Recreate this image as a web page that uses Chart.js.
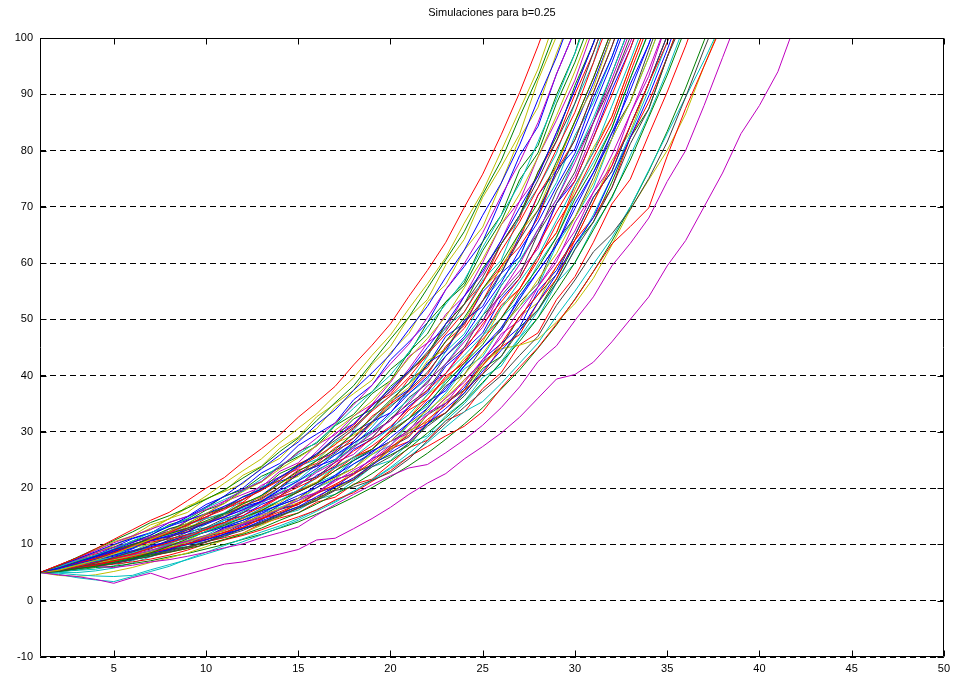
<!DOCTYPE html>
<html>
<head>
<meta charset="utf-8">
<script src="https://cdn.jsdelivr.net/npm/chart.js@4.4.1/dist/chart.umd.min.js"></script>
<style>
  body { margin: 0; background: #fff; }
  #wrap { width: 955px; height: 677px; }
</style>
</head>
<body>
<div id="wrap"><canvas id="sims"></canvas></div>
<script>
// Simulated paths, one value per step starting at t = 1
const titleText = "Simulaciones para b=0.25";
const xTicks = [5, 10, 15, 20, 25, 30, 35, 40, 45, 50];
const yTicks = [-10, 0, 10, 20, 30, 40, 50, 60, 70, 80, 90, 100];

const run01 = [5,6.3,7.6,9.2,10.9,12.6,14.3,15.7,17.8,20,21.9,24.6,27,29.5,32.6,35.3,38.1,41.9,45.4,49.2,54.1,58.7,63.7,69.9,75.8,82.8,90.3,98.6,107.7];
const run02 = [5,6.2,7.7,9.2,10.7,12.2,13.9,15.1,16.5,18,19.7,21.8,23.8,26.5,28.9,32,35.2,38.2,42.3,46.5,50.4,55.5,60.6,65.6,72.2,78.2,86,93.2,101.8];
const run03 = [5,5.8,6.8,7.9,9.1,10.3,11.7,13.2,14.9,16.7,18.6,21,23.4,25.9,28.2,31.3,33.9,37.4,40.5,43.8,48.2,52.3,57.5,62.3,68.5,74.2,81,89.1,96.6,105.4];
const run04 = [5,6.3,7.6,8.9,10.3,11.5,12.7,13.9,15,16.2,17.7,19.7,21.2,23.8,26.3,28.9,31.6,34.8,38.3,42.1,45.6,50.3,55.3,59.9,65.4,71.9,77.9,85,93.6,101.4];
const run05 = [5,6,7.1,8.1,9.2,10.6,12.1,13.3,14.6,16.5,18,19.5,21.6,24,26,28.2,31.1,34.2,37.1,40.1,44.2,48.6,52.7,57,62.8,68.5,74.1,81.6,89.2,97.3,106.2];
const run06 = [5,5.4,6.3,7.2,8.3,9.6,10.9,12.3,13.8,15.5,17.3,19.4,21.1,23.4,25.4,27.5,30.3,32.8,35.5,39.1,43.1,46.6,50.5,55.6,60.7,66.8,72.3,78.9,86.2,94.1,102.7];
const run07 = [5,6.2,7.4,8.7,10,11.1,12.1,13.2,14.3,15.5,16.8,18.4,19.8,22,23.9,26.1,29,31.4,34.6,37.7,40.8,45,49.2,54.1,58.6,64,69.8,75.5,83.2,90.8,99.1,108.2];
const run08 = [5,5.8,6.7,7.5,8.5,9.7,10.8,12.1,13.5,14.9,16.2,18,19.6,21.4,23.7,25.6,27.7,30.6,33.7,36.4,39.7,43.8,47.4,51.3,56.5,62.2,67.3,73.4,80.2,86.8,95.6,104.3];
const run09 = [5,5.9,6.9,8,9.1,10,10.9,11.9,12.9,14.2,15.5,17.2,18.7,20.8,23,24.9,26.9,29.7,32.4,35.7,38.6,41.8,46.1,50.3,55.4,60,65.4,70.7,78,85.2,92.9,101.4];
const run10 = [5,5.3,5.9,6.7,7.7,8.7,9.9,11.2,12.6,13.8,15.3,16.7,18.2,20.2,22.4,24.2,26.2,28.9,31.8,34.4,37.5,40.6,44.8,49.3,53.3,58.2,64.2,69.4,75.8,81.9,90.3,98.5,107.6];
const run11 = [5,5.7,6.7,7.8,8.8,9.7,10.7,11.6,12.6,13.6,14.9,16.2,17.6,19.6,21.3,23.5,25.9,28,30.3,33.4,36.8,39.8,43.5,46.9,51.8,56.5,62.3,67.3,73.6,79.5,87.6,95.6,104.4];
const run12 = [5,6.1,7.2,8.5,9.5,10.4,11.3,12.1,12.9,13.9,14.9,16.1,17.5,19,20.6,22.8,24.6,27.2,29.7,32,35.3,39,42.1,46,49.7,54.8,59.8,66,71.3,77.9,85,92.7,101.3];
const run13 = [5,5.4,6.1,6.8,7.5,8.3,9.4,10.3,11.3,12.7,13.9,15.1,16.7,18.6,20.2,21.8,24.1,26.6,28.7,31,34.2,37.4,40.4,44.5,49.2,53.1,57.3,63.2,69.1,74.6,82.3,89.8,98.1,107];
const run14 = [5,5.6,6.3,7.1,7.7,8.5,9.4,10.2,11.2,12.3,13.7,14.8,16.4,17.8,19.7,21.8,23.6,25.5,28.1,30.7,33.1,36.6,40.4,43.6,47.1,52,56.7,61.2,67.6,73.8,79.7,87.9,96,104.7];
const run15 = [5,5.2,5.7,6.1,6.8,7.5,8.5,9.7,11,12.3,13.4,14.8,16,17.8,19.3,20.9,23.1,24.9,26.9,29.7,32.4,35,38.6,42.2,45.5,50.2,54.8,59.2,64.6,71.4,77,84,92.8,101];
const run16 = [5,5.8,6.6,7.3,8.1,8.9,9.6,10.5,11.3,12.2,13.1,14.3,15.5,17.2,18.7,20.1,22.3,24.3,26.3,29,31.6,34.2,37.8,41.7,45,48.5,53.6,58.5,63.2,69.7,76.1,83.1,90.7,98.9,107.9];
const run17 = [5,5.5,6.2,6.7,7.3,8,8.7,9.5,10.4,11.5,12.5,13.9,15.1,16.4,18.2,20.1,21.8,23.5,26,28.3,31.3,33.8,36.4,40.2,43.9,48.5,52.3,57.1,61.7,68.1,74.3,82.1,88.6,96.6,105.4];
const run18 = [5,5.4,6.1,6.8,7.5,8.2,9,9.8,10.6,11.6,12.5,13.6,14.8,16.4,17.8,19.2,21.2,23.2,25,27.6,30.5,33,36,38.8,42.9,46.8,51.7,55.8,60.9,65.7,72.6,79.2,86.5,94.3,102.9];
const run19 = [5,5.3,5.9,6.3,7,7.8,8.5,9.4,10.1,11.1,12.1,13.1,14.6,15.8,17.1,19,20.7,22.4,24.7,27.3,29.4,32.2,34.7,38.3,41.8,45.7,50.5,54.4,59.4,64.1,70.8,77.3,84.4,92,99.2,109.6];
const run20 = [5,5.6,6.3,6.9,7.5,8.1,8.7,9.4,10,10.8,11.8,12.8,14.2,15.4,16.7,18.5,20.2,21.8,24.1,26.3,28.3,31.4,34.2,36.9,40.8,44.5,48,53,58,63.3,68.1,75.3,82.3,89.7,97.9,106.9];
const run21 = [5,5.2,5.7,6.1,6.6,7.3,7.9,8.7,9.5,10.4,11.5,12.5,13.9,15,16.5,18.2,19.7,21.5,23.8,25.6,28,31,33.4,36.4,40.3,43.4,48,51.7,56.5,62.4,67.3,73.4,81.2,87.4,96.6,104.1];
const run22 = [5,5.7,6.4,6.9,7.2,7.6,8.1,8.6,9.3,10,10.9,11.8,12.9,14.3,15.6,17.2,18.9,20.6,22.6,24.8,27.1,29.8,32.5,35.4,38.8,42.3,46.1,50.3,55.1,60.1,65.9,71.8,78.3,85.9,93.4,101.8];
const run23 = [5,6,7.2,8.5,9.8,11.3,12.9,14.6,16.5,18.6,20.9,23.1,25.2,28.1,30.6,33.2,36.5,39.6,43.6,47.2,51.9,56.3,61,67.1,72.7,79.9,87.2,94.5,104];
const run24 = [5,5.8,6.6,7.6,8.7,9.9,11.2,12.3,13.5,14.9,16.5,18,19.6,21.8,24.1,26.1,28.5,30.8,34,37.4,40.5,44.2,47.9,52.7,57.5,63.4,68.5,74.8,81.7,88.4,97.4,106.3];
const run25 = [5,5.1,5.5,6.1,6.7,7.7,8.9,10.1,11.5,12.8,14.3,15.9,17.3,19.2,21.3,23,25.1,27.2,30,33,35.7,39,42.1,46.5,50.7,56,60.4,66,71.3,78.7,85.8,93.7,102.3];
const run26 = [5,6,7.1,8.1,9,9.7,10.4,11,11.7,12.6,13.6,14.8,16,17.8,19.3,20.9,23.1,25.5,27.5,30,32.4,35.8,39.5,42.6,46.5,50.2,55.4,60.5,66.9,72.2,78.8,85,93.9,102.4];
const run27 = [5,4.6,4.3,3.8,3.1,4.1,4.9,3.8,4.7,5.6,6.5,6.9,7.6,8.3,9.1,10.8,11.1,12.8,14.6,16.6,18.9,20.9,22.6,25.2,27.4,29.8,32.6,36,39.4,40.2,42.4,46,50,54,59.5,64,70,76,83,88,94,103];
const run28 = [5,5.5,5.9,6.1,5.9,6.3,6.9,7.3,7.9,8.6,9.4,10.1,11.2,12.1,13.1,15.2,17.1,18.9,20.6,22.2,23.6,24.2,26.3,28.6,31.2,34.3,38,42.5,45.3,49.8,54,59.5,63.5,68,74.5,80,88,96.5,105];
const run29 = [5,5.4,5.9,6.4,6.9,7.5,8.2,8.9,9.6,10.5,11.6,12.8,14,15.2,16.4,17.8,19.6,20.2,21.4,22.8,25.2,28.4,31.5,34.4,37.2,40,43.6,47,52.5,57,62,65.2,69.5,75,81.5,89.5,98,106];
const run30 = [5,5.3,5.6,6.1,6.5,6.9,7.4,8.1,9,10.1,10.8,11.6,12.6,13.8,14.9,16.1,17.9,19.2,21.2,23.1,25.6,27.4,29.3,31,33.6,37.8,41.5,45,49.2,53.5,58.5,63.4,66.5,69.8,79,87.5,95,102.5];
const run31 = [5,4.7,4.1,3.7,3.4,4.3,5.2,6.1,7.4,8.6,9.8,11,12.2,13.3,14.6,16.2,17.7,19.5,21.4,23.5,25.6,28.1,30.9,33.6,35.4,38.6,42.2,45.8,50.6,55,59.8,64.5,70,76.5,83,89.5,96,103];
const run32 = [5,4.9,4.6,4.4,4.3,4.5,5.5,6.4,7.3,8.3,9.3,10.5,11.7,13,14.3,15.9,17.5,19.4,21.5,23.7,26.2,29,32,35,38.6,42.5,46.8,51.5,56.6,62.5,68.6,75.4,82.9,90.8,99.2,108];
const run33 = [5,4.5,4.3,4.6,5.2,5.9,6.8,7.6,8.5,9.6,10.8,12,13.4,14.9,16.5,18.1,19.8,21.9,24.1,26.8,29.8,32.9,36.1,39.2,42.1,44.8,45.4,46.5,49.5,52.8,57.3,63.2,69.5,74.8,80,86.5,95,103];
const run34 = [5,5.2,5.5,5.9,6.1,6.6,7.1,7.8,8.4,9.2,10,10.9,11.8,12.9,14,15.4,16.8,18.4,20.1,22,24,26.2,28.7,31.4,34.3,37.6,41,44.9,49,53.6,58.5,63.9,69.9,76.3,83.4,91.1,99.5,108];
const run35 = [5,5.7,6.7,7.3,8.5,9.3,10.8,11.4,12.2,13.9,14.8,16.7,17.6,19.8,22.6,23.9,25.1,28.3,31.8,33.4,37.5,42.2,44.3,49.8,52.3,58.2,61.1,68.7,76.5,80.3,89.4,96.6,105.5];
const run36 = [5,5.9,7.1,7.8,9.2,10.6,11.6,13.5,14.5,16.5,18.6,19.7,22.1,23.6,26.5,28,31.3,35.1,37.1,41.1,43.8,49.4,53.1,56.5,63.8,68.5,76.6,80.9,89.9,97.3,108];
const run37 = [5,5.5,6.3,6.8,7.7,8.3,9.4,10.1,11.5,12.2,13.7,14.6,16.4,18.4,19.5,20.9,23.6,25.5,26.9,30.3,33.9,35.8,39.9,42.2,47.1,52.5,55.4,61.2,65.4,73.8,79.7,86,95,103.5];
const run38 = [5,5.8,6.3,7.4,8.1,9.4,10.9,11.8,13.5,14.6,15.6,17.9,20.2,21.4,23.9,25.1,28.2,30.3,34,36.4,38.6,43.4,48.7,51.3,57,60.5,68.5,73.4,79.5,88.4,95.6,106.3];
const run39 = [5,5.6,6.1,6.7,7.3,8,8.7,9.9,10.5,11.3,12.8,13.6,15.3,16.2,18.2,19.2,21.5,22.6,25.3,28.3,29.8,33.4,35.1,39.3,42.4,47.4,49.8,55.8,60.2,67.3,72.6,77.3,86.5,93.2,102.9];
const run40 = [5,6,7.2,8.6,9.9,11.5,12.6,14.6,15.7,18.1,19.4,20.8,23.6,25.3,28.6,30.6,34.4,36.8,39.2,44.1,47.5,53.1,56.2,62.3,66.4,74.2,82.2,87.7,97.3,105.4];
const run41 = [5,5.4,5.9,6.8,7.3,8.4,9.2,10.7,11.5,13,13.9,15.6,17.6,18.6,20.8,22,24.6,27.5,29,32.4,35,37.4,42.1,45,50.7,54.2,57.9,65.3,70.6,76.2,85,91.8,100.2];
const run42 = [5,5.3,5.7,6.1,6.6,7.3,8.4,9.1,10.5,11.3,13,13.9,15.8,17,18.2,20.6,22,24.9,26.6,28.3,31.6,35.4,37.3,41.7,45,48,54.2,58.5,63.2,70.6,76.1,82.1,91.8,98.9,107.9];
const run43 = [5,6.2,7.4,8.6,9.5,10.4,11.3,12.8,13.7,15.5,16.5,18.5,19.8,22.6,24.1,25.8,29,32.3,34,38.1,40.8,43.8,49.2,52.7,59.1,63.4,68.5,76.2,82.5,91.6,99.1,108.2];
const run44 = [5,5.4,6,6.5,7.1,7.8,8.5,9.2,10.1,10.8,12.2,13,14.6,15.4,17.4,18.2,20.5,21.5,24.1,27,28.3,31.8,33.4,37.4,40.3,45.1,47.3,53,57.2,64.1,68.1,73.4,82.3,88.6,96.6,105.5];
const run45 = [5,5.9,6.9,7.6,8.9,9.7,11.4,12.3,14.3,15.4,17.6,18.9,20.2,23,24.5,27.7,29.5,32.8,34.9,38.8,43.4,45.8,50.9,54.1,60.1,66.8,71,78.9,85.4,92.5,101.8];
const run46 = [5,5.2,5.4,5.6,6.2,7.1,8.2,9.4,10.7,11.6,13.4,14.3,16,17,19.5,20.9,22.3,25.2,26.9,30.3,32.4,34.6,39.1,41.7,47.1,50.2,53.6,59.8,64.6,72.2,77.9,84,92.8,101.2];
const run47 = [5,5.6,6.6,7.5,8.1,9.4,10.1,11.6,13.2,14,15,17.2,18.5,21,22.1,24.9,28,29.4,31.5,35.4,37.9,42.6,44.8,49.8,55.4,58.8,65.4,69.4,77.3,85.2,91.2,100.5];
const run48 = [5,5.8,6.7,7.3,7.9,8.6,9.8,10.5,11.8,12.7,14.3,15.1,17.1,18.4,19.5,22.3,23.8,26.9,28.7,30.7,34.6,37,41.7,44.5,47.6,53.7,57.3,63.2,70.6,74.6,82.3,90.8,98.1,107];
const run49 = [5,6.2,7.3,8,8.7,9.4,10.7,11.4,12.3,14,14.9,16.9,18,20.2,22.8,23.9,26.7,28.3,31.5,35,37.2,40.2,45.2,48.4,53.3,59.4,62.9,68,76.5,81.9,90.3,98.5,107.6];
const run50 = [5,5.5,5.9,6.5,7,7.7,8.3,9.5,10,11.5,12.1,13.6,14.4,16.2,17.1,19.2,21.5,22.6,24.1,27.3,29.1,33,35.1,37.4,42.4,45.1,50.5,54.4,58,64.9,71.7,76.3,84.4,92,100.4];
const run51 = [5,6.3,7.6,9,10.5,11.5,13.5,14.5,16.8,18.1,19.5,22.3,23.9,27.1,29.1,32.7,35,37.4,42,45.2,50.4,53.5,59.7,64.2,71.7,77.1,82.9,92.5,100.3];
const run52 = [5,5.8,6.9,8.1,9.5,11,12,13.9,15,17.1,18.5,20,22.7,24.4,27.6,29.6,31.6,35.7,38.3,42.8,46,49.4,55.3,59.4,63.8,71.4,79.1,84.3,93.6,101.4];
const run53 = [5,5.5,6.3,7.3,8.5,9.7,11.3,12.3,14.2,16.1,17.3,19.7,21.1,24,25.6,27.5,31.1,33.1,36.8,39.1,44.2,47.4,53.1,56,62.2,67.4,74.8,79.6,88.4,95.7,104.4];
const run54 = [5,6,7.1,7.8,9,9.8,10.7,12.3,13.3,15.3,16.4,17.5,20,21.4,24.3,25.8,29,31.1,34.9,36.7,40.8,43.4,49.2,52.7,56.5,63.4,67.9,76.2,81.7,90,97.4,106.3];
const run55 = [5,5.9,6.4,6.9,8.1,8.8,10.2,11,11.8,13.6,15.5,16.4,17.6,20.2,21.5,24.2,25.9,27.5,30.9,34.7,36.8,39.4,44.3,47.4,53.3,57.1,61.1,68.7,74.3,82.7,88.5,96.6,105.5];
const run56 = [5,5.4,6.2,6.7,7.7,8.2,9.5,10.3,11.1,12.8,13.9,15.7,16.6,18.6,21,22,24.6,26,29,32.4,34.2,38.2,40.4,45,48.6,54.8,58.6,62.6,70.6,75.4,83.2,91.8,99.2,108.1];
const run57 = [5,5.3,5.8,6.6,7.1,8.2,8.8,10,10.7,12.4,13.3,14.3,16.2,17.4,19.7,21.1,23.8,25.5,26.9,30.3,32.4,36.6,39.1,43.1,46,52,55.4,61.2,65.4,73,80.5,86,95,103.5];
const run58 = [5,5.7,6.2,6.7,7.3,8,8.6,9.8,10.5,11.3,13,13.9,14.9,17,18.2,20.6,22,23.5,26.6,28.3,30.2,34.2,38.2,40.2,45,48,53,56.4,63.9,68.1,75.2,83.1,88.6,97.8,106.7];
const run59 = [5,5.4,5.9,6.3,6.9,7.4,8.5,9,10.2,10.9,11.8,13.4,14.4,16.4,17.1,19.2,20.2,22.6,25.3,26.6,29.8,31.4,35.1,37.8,42.9,45.7,48.6,55.1,58.7,64.9,71.7,76.3,84.4,92,100.4];
const run60 = [5,5.3,5.7,6.1,6.7,7.3,7.9,9.1,9.6,10.4,11.9,12.8,13.7,15.6,16.7,17.8,20.2,21.5,24.4,25.9,27.6,31.4,33.4,36.9,41.3,43.4,48.6,51.7,57.2,63.3,67.3,74.4,82.3,87.4,96.6,105.5];
const run61 = [5,6.3,7.6,8.3,9,9.7,11.1,11.9,12.8,14.6,15.5,17.4,18.4,20.8,23.2,24.4,27.2,28.9,32.8,35,39.4,41.4,46.1,48.9,55.4,59.4,64.2,72.1,77.3,85.2,92.9,101.4];
const run62 = [5,5,5,5.3,5.8,6.7,7.8,8.9,10.2,11.1,12.7,13.6,15.5,16.6,17.8,20.1,21.5,24.3,26,27.6,31.3,33.4,36.9,41.2,43.4,48.5,52.3,55.8,63.2,68.1,73.5,82.1,88.6,96.6,105.4];
const run63 = [5,5.8,6.8,7.4,8.7,10.1,10.9,12.7,13.7,14.7,16.8,18,20.5,22,23.4,26.5,29.8,31.4,34.9,37.1,41.2,45.8,48.3,54.1,58.1,64,71,75.5,83.2,90.8,99.1,108.2];
const run64 = [5,5.6,6.1,7.1,7.6,8.8,9.4,10.8,12.2,13,14.6,15.6,17.8,19.2,20.4,23.2,24.9,28,30,32,36.1,38.6,43.5,46.5,49.7,56,60.4,65.3,72.8,78.7,85,93.7,102.3];
const run65 = [5,5.9,6.8,7.5,8.1,8.7,9.4,10,10.7,11.6,12.4,13.9,14.6,16.4,17.4,19.4,20.5,22.9,24.1,27,30.2,31.8,35.6,37.4,41.8,45.1,50.5,53,59.4,64.1,70.8,78.2,83.3,92,100.4];
const run66 = [5,5.9,6.4,7.4,8,9.2,10.6,11.3,12.9,13.8,15.6,16.6,18.7,21.2,22.4,24.9,26.4,30,31.8,35.4,37.5,41.8,47,49.3,54.9,58.2,64.8,72.1,76.5,84.3,92,100.5];
const run67 = [5,5.4,5.8,6.2,6.7,7.3,7.9,8.6,9.3,10.5,11.2,12,13.7,14.7,15.6,17.5,18.4,20.7,21.6,24.3,27.2,28.5,32,33.5,37.7,40.5,45.5,47.6,53.5,57.6,63.7,70.5,74.9,82.8,90.4,98.6,107.6];
const run68 = [5,5.6,6,6.6,7.1,7.6,8.2,8.8,10,10.5,11.3,13,13.5,15.2,16.1,18,18.9,21.2,23.8,24.9,28,29.3,32.9,35.4,39.7,41.7,46.7,50.3,56.5,60,66.4,71.5,79.1,86.3,94.1,102.8];

const runs = [run01, run02, run03, run04, run05, run06, run07, run08, run09, run10,
              run11, run12, run13, run14, run15, run16, run17, run18, run19, run20,
              run21, run22, run23, run24, run25, run26, run27, run28, run29, run30,
              run31, run32, run33, run34, run35, run36, run37, run38, run39, run40,
              run41, run42, run43, run44, run45, run46, run47, run48, run49, run50,
              run51, run52, run53, run54, run55, run56, run57, run58, run59, run60,
              run61, run62, run63, run64, run65, run66, run67, run68];

// classic MATLAB colour order: b g r c m y k
const palette = { b: "#0000ff", g: "#008000", r: "#ff0000", c: "#00bfbf",
                  m: "#bf00bf", y: "#bfbf00", k: "#404040" };
const runColors = ("rgbmcybrgkbmrcgbymrbkgykcrmmkrccyg" +
                   "bgrcmykbgrmcybrk" +
                   "ybgrcmykbgrcmkybrc").split("");

const FONT = '"Liberation Sans", Arial, sans-serif';

// boxed axes with inward ticks and a title centred over the plot
const matlabAxes = {
    id: "matlabAxes",
    afterDraw(chart) {
        const { ctx, chartArea: a, scales } = chart;
        const L = Math.round(a.left) + 0.5, R = Math.round(a.right) - 0.5;
        const T = Math.round(a.top) + 0.5, B = Math.round(a.bottom) - 0.5;
        const tick = 6;
        ctx.save();
        ctx.strokeStyle = "#000";
        ctx.lineWidth = 1;
        ctx.beginPath();
        ctx.rect(L, T, R - L, B - T);
        xTicks.forEach((v) => {
            const px = Math.round(scales.x.getPixelForValue(v)) + 0.5;
            ctx.moveTo(px, B); ctx.lineTo(px, B - tick);
            ctx.moveTo(px, T); ctx.lineTo(px, T + tick);
        });
        yTicks.forEach((v) => {
            const py = Math.round(scales.y.getPixelForValue(v)) + 0.5;
            ctx.moveTo(L, py); ctx.lineTo(L + tick, py);
            ctx.moveTo(R, py); ctx.lineTo(R - tick, py);
        });
        ctx.stroke();
        ctx.fillStyle = "#000";
        ctx.font = "11px " + FONT;
        ctx.textAlign = "center";
        ctx.textBaseline = "middle";
        ctx.fillText(titleText, (a.left + a.right) / 2, 13);
        ctx.restore();
    },
};

const ctx = document.getElementById("sims").getContext("2d");
new Chart(ctx, {
    type: "line",
    data: {
        datasets: runs.map((values, i) => ({
            data: values.map((y, step) => ({ x: step + 1, y: y })),
            borderColor: palette[runColors[i]],
            borderWidth: 1,
            pointRadius: 0,
            tension: 0,
            fill: false,
        })),
    },
    options: {
        responsive: true,
        maintainAspectRatio: false,
        animation: false,
        devicePixelRatio: 1,
        layout: { padding: { top: 38, right: 9, bottom: 0, left: 0 } },
        scales: {
            x: {
                type: "linear",
                min: 1,
                max: 50,
                afterBuildTicks: (axis) => {
                    axis.ticks = xTicks.map((v) => ({ value: v }));
                },
                afterFit: (axis) => { axis.height = 20; },
                grid: { display: false, drawTicks: false },
                border: { display: false },
                ticks: {
                    autoSkip: false,
                    maxRotation: 0,
                    padding: 5,
                    color: "#000",
                    font: { family: FONT, size: 11 },
                },
            },
            y: {
                min: -10,
                max: 100,
                afterBuildTicks: (axis) => {
                    axis.ticks = yTicks.map((v) => ({ value: v }));
                },
                afterFit: (axis) => { axis.width = 40; },
                grid: { color: "#000", lineWidth: 1, drawTicks: false },
                border: { display: false, dash: [6, 4] },
                ticks: {
                    padding: 7,
                    color: "#000",
                    font: { family: FONT, size: 11 },
                },
            },
        },
        plugins: {
            legend: { display: false },
            title: { display: false },
            tooltip: { enabled: false },
        },
    },
    plugins: [matlabAxes],
});
</script>
</body>
</html>
